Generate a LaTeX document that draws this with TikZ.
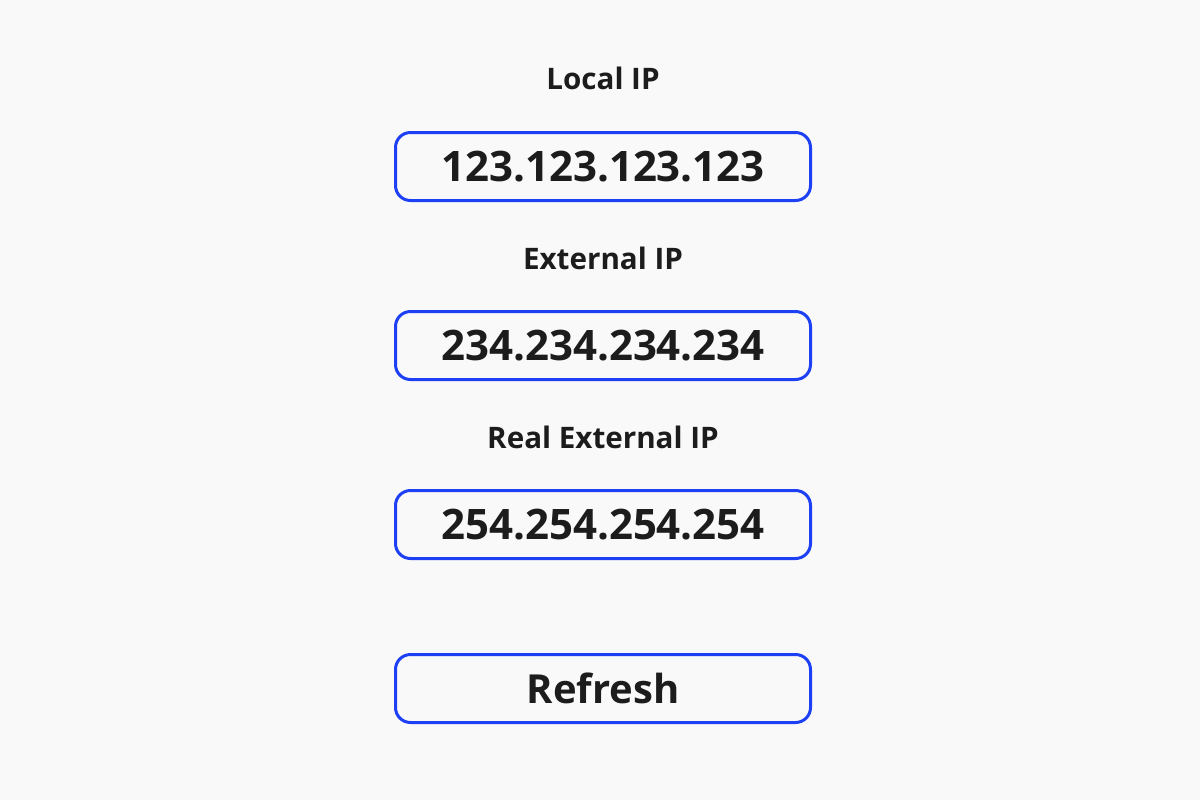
\documentclass[tikz,border=0pt]{standalone}
\usepackage{fontspec}
\setmainfont{Open Sans}
\usepackage{tikz}

\definecolor{bgcol}{RGB}{249,249,249}
\definecolor{boxblue}{RGB}{30,64,245}
\definecolor{txtcol}{RGB}{28,28,28}

\begin{document}
\begin{tikzpicture}[x=0.5pt,y=-0.5pt,
    lbl/.style={text=txtcol,font=\bfseries\fontsize{14.8}{17}\selectfont},
    ipbox/.style={draw=boxblue,line width=1.5pt,rounded corners=7.5pt,
        minimum width=207.5pt,minimum height=34pt,inner sep=0pt,
        text=txtcol,font=\bfseries\fontsize{21}{25}\selectfont}]
				\fill[bgcol] (0,0) rectangle (1200,800);
				\useasboundingbox (0,0) rectangle (1200,800);
				% labels
				\node[lbl] (loclbl) at (603,78) {Local IP};
				\node[lbl] (extlbl) at (603,258) {External IP};
				\node[lbl] (reallbl) at (603,437) {Real External IP};
				% boxes
				\node[ipbox] (locip) at (603,166.5) {123.123.123.123};
				\node[ipbox] (extip) at (603,345.5) {234.234.234.234};
				\node[ipbox] (realip) at (603,524.5) {254.254.254.254};
				\node[ipbox,font=\bfseries\fontsize{20}{24}\selectfont] (refresh) at (603,688.5) {Refresh};
			\end{tikzpicture}
\end{document}
